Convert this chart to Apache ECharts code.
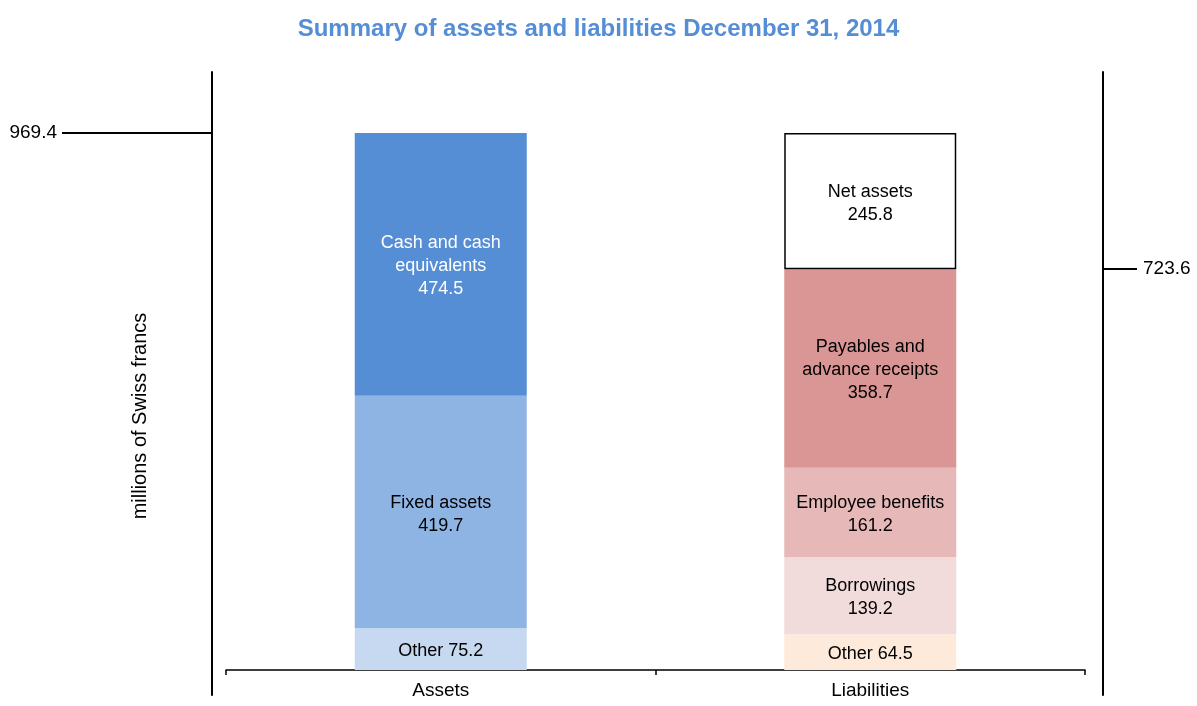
<!DOCTYPE html>
<html><head><meta charset="utf-8">
<script src="https://cdn.jsdelivr.net/npm/echarts@6/dist/echarts.min.js"></script>
<style>html,body{margin:0;padding:0;background:#fff}#c{width:1197px;height:706px}</style>
</head><body><div id="c"></div>
<script>
const categories = ['Assets', 'Liabilities'];
const segNames = ['Other', 'Fixed assets', 'Cash and cash\nequivalents', 'Other', 'Borrowings', 'Employee benefits', 'Payables and\nadvance receipts', 'Net assets'];
const segCategory = [0, 0, 0, 1, 1, 1, 1, 1];
const segValues = [75.2, 419.7, 474.5, 64.5, 139.2, 161.2, 358.7, 245.8];
const segColors = ['#C6D9F1', '#8EB4E3', '#558ED5', '#FDEADA', '#F2DCDB', '#E6B9B8', '#D99694', '#FFFFFF'];
const leftMarks = [969.4];
const rightMarks = [723.6];

const FONT = 'Liberation Sans, Arial, sans-serif';
const chart = echarts.init(document.getElementById('c'), null, {renderer: 'canvas'});

const series = segValues.map((v, i) => ({
  type: 'bar',
  name: segNames[i],
  stack: 'total',
  barWidth: 172,
  xAxisIndex: 0,
  yAxisIndex: 0,
  data: categories.map((c, j) => (j === segCategory[i] ? v : '-')),
  itemStyle: {
    color: segColors[i],
    borderColor: i === 7 ? '#000' : 'transparent',
    borderWidth: i === 7 ? 1.5 : 0
  },
  label: {
    show: true,
    position: 'inside',
    offset: [0, 2],
    formatter: () => segNames[i] === 'Other' ? 'Other ' + v.toFixed(1) : segNames[i] + '\n' + v.toFixed(1),
    color: i === 2 ? '#fff' : '#000',
    fontSize: 18,
    lineHeight: 23,
    fontFamily: FONT
  },
  emphasis: {disabled: true},
  animation: false
}));

chart.setOption({
  animation: false,
  backgroundColor: '#fff',
  title: {
    text: 'Summary of assets and liabilities December 31, 2014',
    left: 'center',
    top: 12,
    textStyle: {color: '#558ED5', fontSize: 24, fontWeight: 'bold', fontFamily: FONT}
  },
  grid: [
    {left: 226, right: 112, top: 133, bottom: 36},
    {left: 212, right: 94, top: 72, bottom: 11}
  ],
  xAxis: [
    {
      gridIndex: 0, type: 'category', data: categories,
      axisLine: {lineStyle: {color: '#000', width: 1.5}},
      axisTick: {show: true, length: 5, lineStyle: {color: '#000', width: 1.5}},
      axisLabel: {color: '#000', fontSize: 19, margin: 11, fontFamily: FONT}
    },
    {gridIndex: 1, type: 'value', show: false, min: 0, max: 1}
  ],
  yAxis: [
    {
      gridIndex: 0, type: 'value', position: 'left', offset: 14, min: 0, max: 969.4,
      axisLine: {show: false}, splitLine: {show: false},
      axisTick: {show: true, customValues: leftMarks, length: 150, lineStyle: {color: '#000', width: 2}},
      axisLabel: {show: true, customValues: leftMarks, margin: 155, color: '#000', fontSize: 19, fontFamily: FONT, formatter: v => Number(v).toFixed(1)}
    },
    {
      gridIndex: 0, type: 'value', position: 'right', offset: 18, min: 0, max: 969.4,
      axisLine: {show: false}, splitLine: {show: false},
      axisTick: {show: true, customValues: rightMarks, length: 34, lineStyle: {color: '#000', width: 2}},
      axisLabel: {show: true, customValues: rightMarks, margin: 40, color: '#000', fontSize: 19, fontFamily: FONT, formatter: v => Number(v).toFixed(1)}
    },
    {
      gridIndex: 1, type: 'value', position: 'left', min: 0, max: 1,
      axisLine: {show: true, lineStyle: {color: '#000', width: 2}},
      axisTick: {show: false}, axisLabel: {show: false}, splitLine: {show: false}
    },
    {
      gridIndex: 1, type: 'value', position: 'right', min: 0, max: 1,
      axisLine: {show: true, lineStyle: {color: '#000', width: 2}},
      axisTick: {show: false}, axisLabel: {show: false}, splitLine: {show: false}
    }
  ],
  graphic: [{
    type: 'text', x: 140, y: 416, rotation: Math.PI / 2,
    style: {text: 'millions of Swiss francs', fontSize: 20, fontFamily: FONT, fill: '#000', textAlign: 'center', textVerticalAlign: 'middle'}
  }],
  series: series
});
</script>
</body></html>
